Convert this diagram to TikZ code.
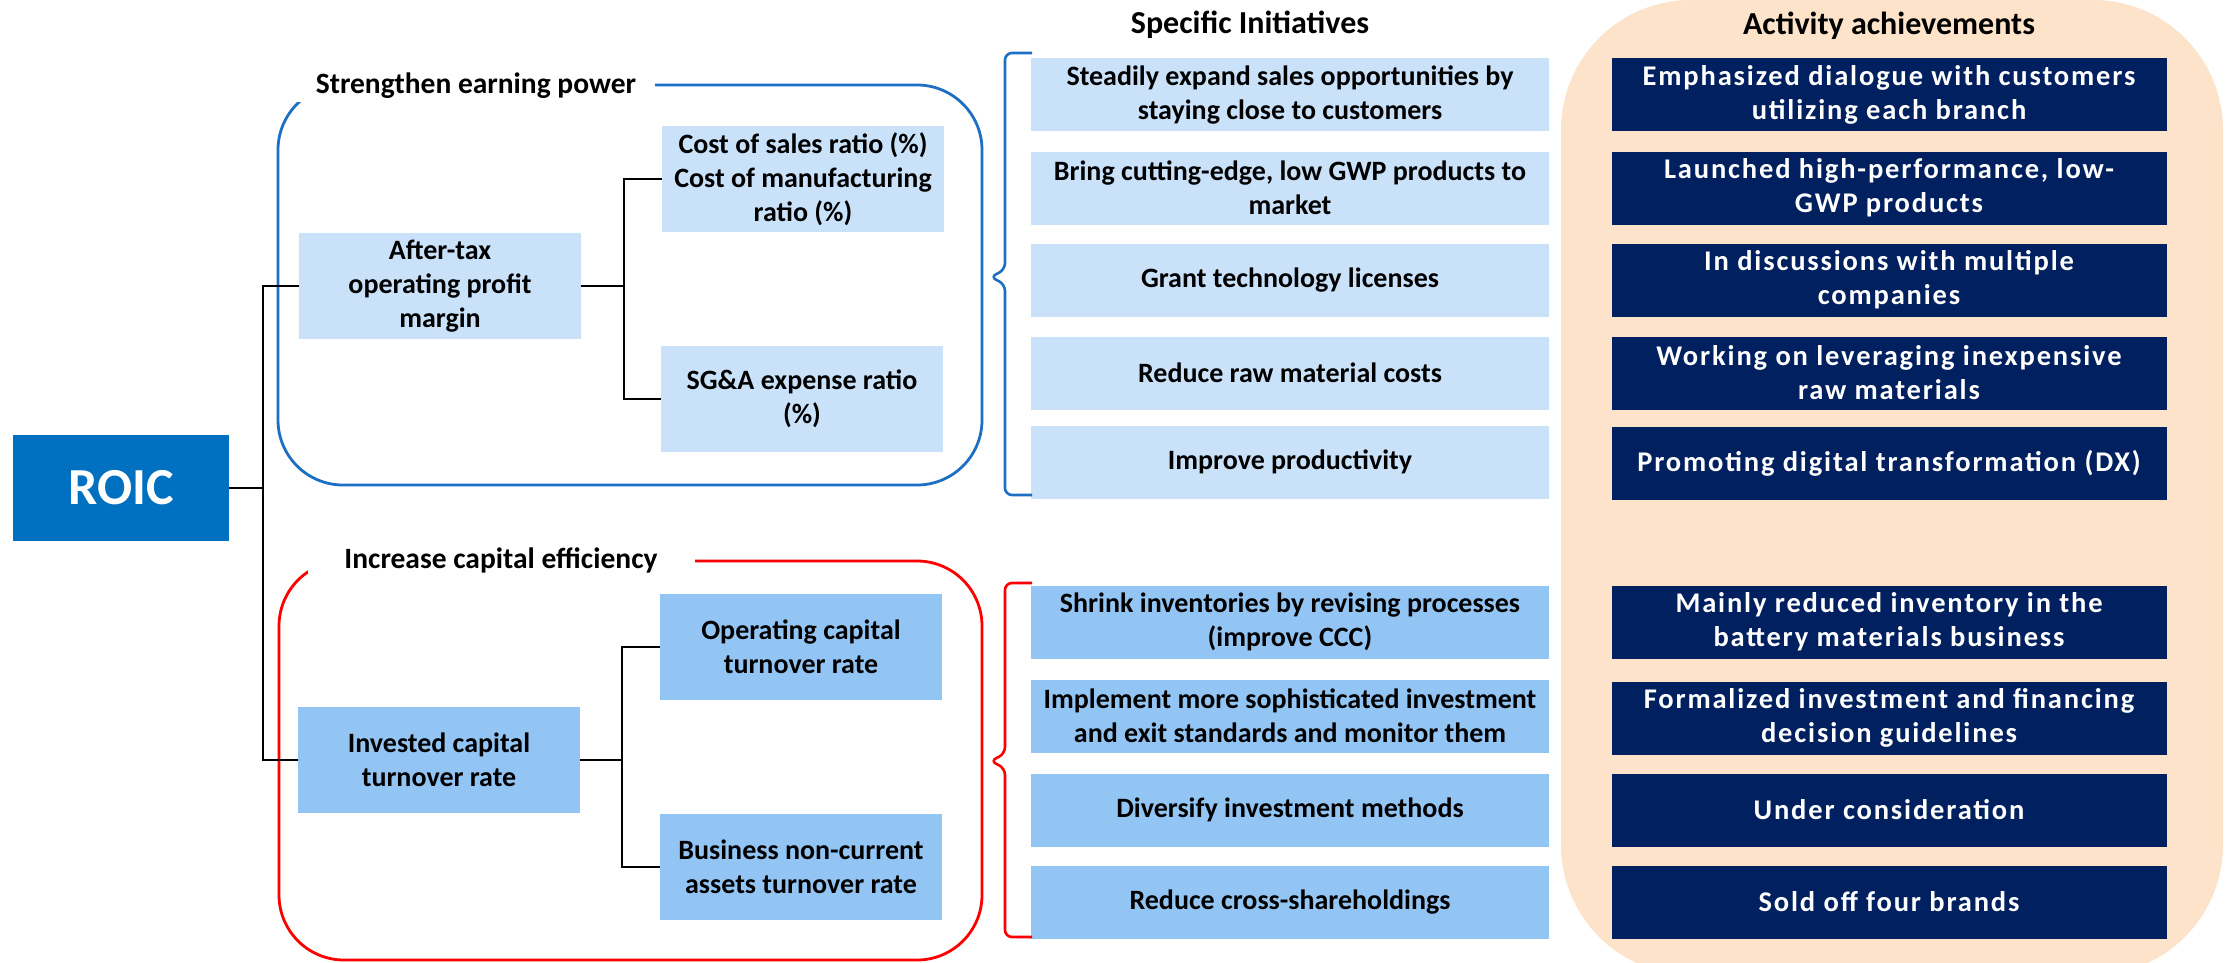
\documentclass[tikz,border=0pt]{standalone}
\usepackage{fontspec}
\setmainfont{Carlito}
\newfontfamily\widefont[LetterSpace=6.5]{Carlito}
\definecolor{roicblue}{HTML}{0070C0}
\definecolor{paleblue}{HTML}{C9E2F9}
\definecolor{midblue}{HTML}{93C5F4}
\definecolor{navy}{HTML}{002060}
\definecolor{peach}{HTML}{FDE3C9}
\definecolor{frameblue}{HTML}{1D6FC4}
\definecolor{framered}{HTML}{FF0000}

\begin{document}
\begin{tikzpicture}[x=1pt,y=-1pt,
    every node/.style={font=\bfseries\fontsize{28}{34}\selectfont, align=center, inner sep=0pt},
    metric/.style={minimum width=282pt, minimum height=106pt},
    initiative/.style={minimum width=518pt, minimum height=73pt},
    result/.style={fill=navy, text=white, minimum width=555pt, minimum height=73pt,
        font=\widefont\bfseries\fontsize{28.5}{34}\selectfont},
    head/.style={font=\bfseries\fontsize{32}{38}\selectfont},
    caption/.style={fill=white, minimum height=32pt, font=\bfseries\fontsize{29.5}{36}\selectfont},
    link/.style={black, line width=2pt},
    frame/.style={line width=2.8pt, rounded corners=65pt},
    brace/.style={line width=2.6pt, rounded corners=7pt}]
    % page and the peach column behind the results
    \useasboundingbox (0,0) rectangle (2226,963);
    \fill [white] (0,0) rectangle (2226,963);
    \fill [peach, rounded corners=130pt] (1561,0) rectangle (2223,975);
    % root
    \node [fill=roicblue, text=white, minimum width=216pt, minimum height=106pt,
        font=\bfseries\fontsize{52}{60}\selectfont] (roic) at (121,488) {ROIC};
    % earning power group
    \draw [frameblue, frame] (278,85) rectangle (982,485);
    \node [caption, minimum width=358pt] (earncap) at (476,86) {Strengthen earning power};
    \node [metric, fill=paleblue] (margin) at (440,286) {After-tax\\operating profit\\margin};
    \node [metric, fill=paleblue] (cost) at (803,179) {Cost of sales ratio (\%)\\Cost of manufacturing\\ratio (\%)};
    \node [metric, fill=paleblue] (sga) at (802,399) {SG\&A expense ratio\\(\%)};
    % capital efficiency group
    \draw [framered, frame] (279,561) rectangle (982,960);
    \node [caption, minimum width=387pt] (capcap) at (501,560) {Increase capital efficiency};
    \node [metric, fill=midblue] (turnover) at (439,760) {Invested capital\\turnover rate};
    \node [metric, fill=midblue] (opcap) at (801,647) {Operating capital\\turnover rate};
    \node [metric, fill=midblue] (noncur) at (801,867) {Business non-current\\assets turnover rate};
    % tree lines
    \draw [link] (margin.west) -- ++(-36,0) coordinate (fork1) |- (turnover.west);
    \draw [link] (roic.east) -- (roic.east -| fork1);
    \draw [link] (cost.west) -- ++(-38,0) coordinate (fork2) |- (sga.west);
    \draw [link] (margin.east) -- (margin.east -| fork2);
    \draw [link] (opcap.west) -- ++(-38,0) coordinate (fork3) |- (noncur.west);
    \draw [link] (turnover.east) -- (turnover.east -| fork3);
    % column heads
    \node [head] (inihead) at (1250,25) {Specific Initiatives};
    \node [head] (achhead) at (1889,26) {Activity achievements};
    % initiatives
    \node [initiative, fill=paleblue] (ini1) at (1290,95) {Steadily expand sales opportunities by\\staying close to customers};
    \node [initiative, fill=paleblue] (ini2) at (1290,188) {Bring cutting-edge, low GWP products to\\market};
    \node [initiative, fill=paleblue] (ini3) at (1290,280) {Grant technology licenses};
    \node [initiative, fill=paleblue] (ini4) at (1290,373) {Reduce raw material costs};
    \node [initiative, fill=paleblue] (ini5) at (1290,462) {Improve productivity};
    \node [initiative, fill=midblue] (ini6) at (1290,622) {Shrink inventories by revising processes\\(improve CCC)};
    \node [initiative, fill=midblue] (ini7) at (1290,716) {Implement more sophisticated investment\\and exit standards and monitor them};
    \node [initiative, fill=midblue] (ini8) at (1290,810) {Diversify investment methods};
    \node [initiative, fill=midblue] (ini9) at (1290,902) {Reduce cross-shareholdings};
    % achievements
    \node [result] (ach1) at (1889,95) {Emphasized dialogue with customers\\utilizing each branch};
    \node [result] (ach2) at (1889,188) {Launched high-performance, low-\\GWP products};
    \node [result] (ach3) at (1889,280) {In discussions with multiple\\companies};
    \node [result] (ach4) at (1889,373) {Working on leveraging inexpensive\\raw materials};
    \node [result] (ach5) at (1889,463) {Promoting digital transformation (DX)};
    \node [result] (ach6) at (1889,622) {Mainly reduced inventory in the\\battery materials business};
    \node [result] (ach7) at (1889,718) {Formalized investment and financing\\decision guidelines};
    \node [result] (ach8) at (1889,810) {Under consideration};
    \node [result] (ach9) at (1889,902) {Sold off four brands};
    % braces in front of the initiatives
    \draw [frameblue, brace] (1032,53) -- (1005,53) -- (1005,270) -- (990,277)
        -- (1005,284) -- (1005,495) -- (1032,495);
    \draw [framered, brace] (1032,583) -- (1005,583) -- (1005,754) -- (990,761)
        -- (1005,768) -- (1005,937) -- (1032,937);
\end{tikzpicture}
\end{document}
